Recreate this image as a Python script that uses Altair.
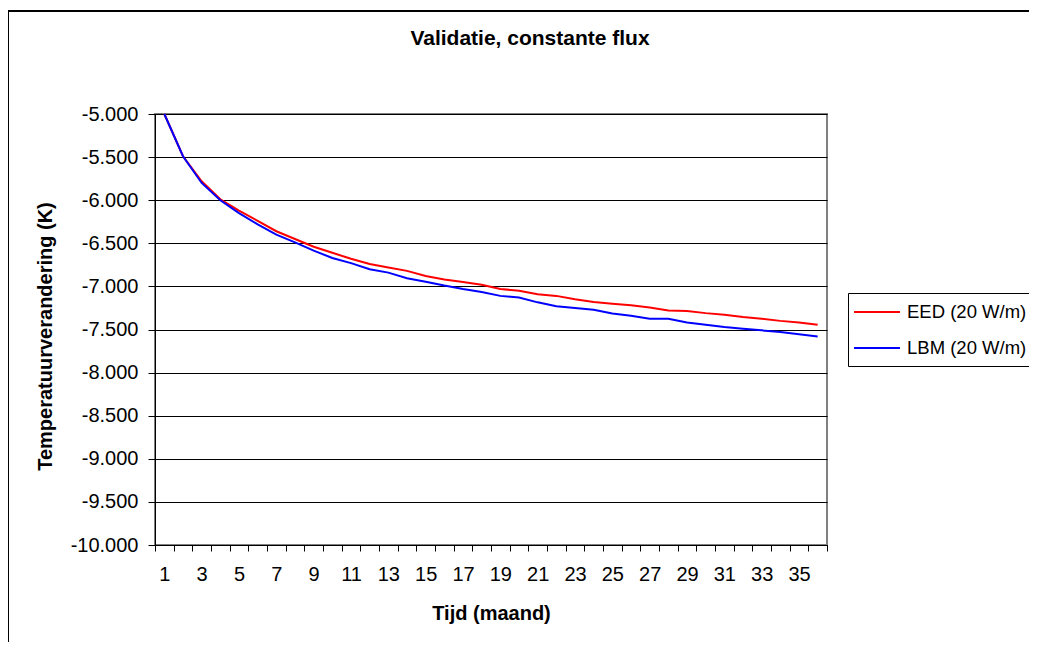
import altair as alt
import pandas as pd

months = list(range(1, 37))
eed = [-5.00, -5.49, -5.78, -5.99, -6.12, -6.24, -6.36, -6.45, -6.54, -6.61,
       -6.68, -6.74, -6.78, -6.82, -6.88, -6.92, -6.95, -6.98, -7.03, -7.05,
       -7.09, -7.11, -7.15, -7.18, -7.20, -7.22, -7.245, -7.28, -7.285, -7.31,
       -7.33, -7.355, -7.375, -7.40, -7.42, -7.445]
lbm = [-5.00, -5.49, -5.80, -6.00, -6.15, -6.28, -6.40, -6.49, -6.585, -6.67,
       -6.73, -6.80, -6.84, -6.905, -6.945, -6.99, -7.03, -7.065, -7.11, -7.13,
       -7.185, -7.23, -7.25, -7.27, -7.315, -7.34, -7.375, -7.375, -7.42, -7.445,
       -7.47, -7.49, -7.51, -7.53, -7.555, -7.58]
series_names = ["EED (20 W/m)", "LBM (20 W/m)"]
series_colors = ["#FF0000", "#0000FF"]
y_ticks = [-10.0, -9.5, -9.0, -8.5, -8.0, -7.5, -7.0, -6.5, -6.0, -5.5, -5.0]

rows = []
for name, vals in zip(series_names, [eed, lbm]):
    for m, v in zip(months, vals):
        rows.append({"month": m, "value": v, "series": name})
df = pd.DataFrame(rows)

FONT = "Liberation Sans"

frame = alt.Chart(alt.Data(values=[{}])).mark_rect(
    filled=False, stroke="#000000", strokeWidth=2
).encode(
    x=alt.value(-147), x2=alt.value(1100),
    y=alt.value(-103), y2=alt.value(700)
)

lines = alt.Chart(df).mark_line(strokeWidth=2).encode(
    x=alt.X(
        "month:O",
        scale=alt.Scale(type="band", paddingInner=0, paddingOuter=0),
        bandPosition=0.5,
        axis=alt.Axis(
            title="Tijd (maand)",
            labelAngle=0,
            tickBand="extent",
            labelExpr="datum.value % 2 == 1 ? datum.label : ''",
            grid=False,
            tickSize=6,
            labelPadding=13,
            titlePadding=19,
        ),
    ),
    y=alt.Y(
        "value:Q",
        scale=alt.Scale(domain=[-10, -5], nice=False, zero=False),
        axis=alt.Axis(
            title="Temperatuurverandering (K)",
            values=y_ticks,
            labelExpr="(datum.value < 0 ? '-' : '') + format(abs(datum.value), '.3f')",
            grid=True,
            tickSize=7,
            labelPadding=10,
            titlePadding=15,
            titleY=222,
        ),
    ),
    color=alt.Color(
        "series:N",
        scale=alt.Scale(domain=series_names, range=series_colors),
        legend=alt.Legend(
            title=None,
            orient="none",
            legendX=693,
            legendY=179,
            strokeColor="#000000",
            fillColor="#FFFFFF",
            padding=8,
            symbolType="M-2.3,0L2.3,0",
            symbolSize=400,
            symbolStrokeWidth=2,
            symbolOffset=10,
            labelFontSize=18.5,
            labelFont=FONT,
            labelColor="#000000",
            labelOffset=19,
            rowPadding=15,
        ),
    ),
)

chart = alt.layer(frame, lines).properties(
    width=672,
    height=431,
    autosize=alt.AutoSizeParams(type="none"),
    padding={"left": 147, "top": 106, "right": 202, "bottom": 97},
    title=alt.Title(
        "Validatie, constante flux",
        fontSize=21,
        font=FONT,
        fontWeight="bold",
        color="#000000",
        dx=39,
        offset=-39,
    ),
).configure(
    background="#FFFFFF",
).configure_view(
    stroke="#808080",
    strokeWidth=2,
).configure_axis(
    labelFont=FONT,
    labelFontSize=20,
    labelColor="#000000",
    titleFont=FONT,
    titleFontSize=20,
    titleFontWeight="bold",
    titleColor="#000000",
    domainColor="#000000",
    domainWidth=1,
    tickColor="#000000",
    tickWidth=1,
    gridColor="#000000",
    gridWidth=1,
    gridOpacity=1,
)

chart.save("out.html", embed_options={"renderer": "svg", "actions": False})
